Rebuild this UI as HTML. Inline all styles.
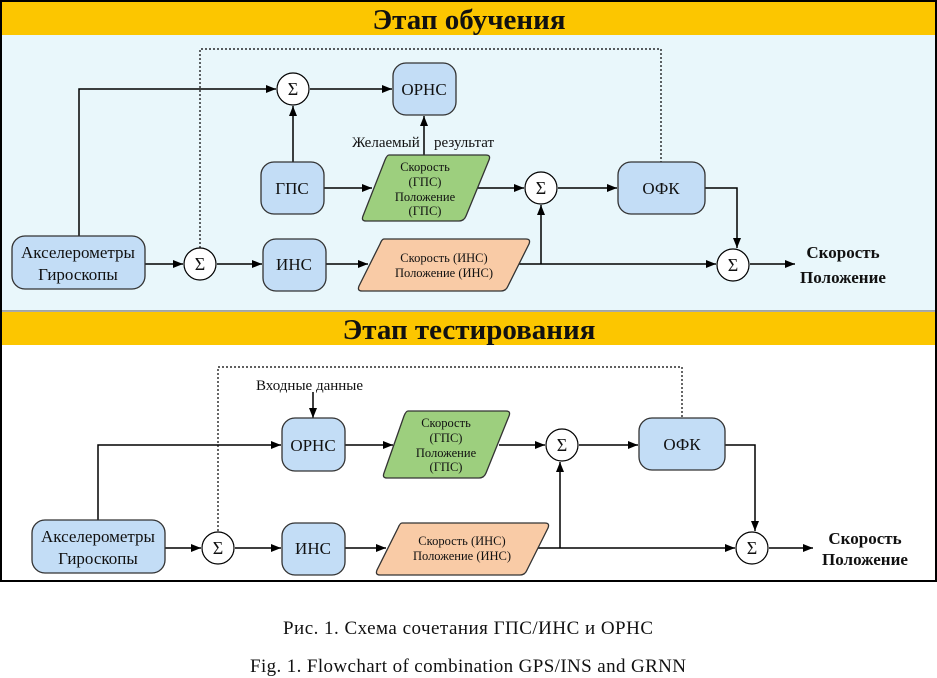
<!DOCTYPE html>
<html><head><meta charset="utf-8"><style>
html,body{margin:0;padding:0;background:#fff;}
svg{display:block;}
text{font-family:"Liberation Serif","DejaVu Serif",serif;fill:#111;}
</style></head><body>
<svg width="937" height="678" viewBox="0 0 937 678" xmlns="http://www.w3.org/2000/svg">
<defs>
<marker id="a" viewBox="0 0 10 10" refX="10" refY="5" markerWidth="10" markerHeight="10" markerUnits="userSpaceOnUse" orient="auto"><path d="M0,1 L10,5 L0,9 z" fill="#000"/></marker>
</defs>
<rect x="1" y="1" width="935" height="580" fill="#fff" stroke="#000" stroke-width="2"/>
<rect x="2" y="2" width="933" height="33" fill="#fcc600"/>
<rect x="2" y="35" width="933" height="276" fill="#e9f7fb"/>
<line x1="2" y1="311" x2="935" y2="311" stroke="#555" stroke-width="1"/>
<rect x="2" y="312" width="933" height="33" fill="#fcc600"/>
<text x="469" y="29" font-size="29" font-weight="bold" text-anchor="middle">Этап обучения</text>
<text x="469" y="339" font-size="29" font-weight="bold" text-anchor="middle">Этап тестирования</text>

<g stroke="#000" stroke-width="1.5" fill="none">
<polyline points="200,248 200,49 661,49 661,162" stroke-dasharray="2,2" stroke-width="1.2" marker-start="url(#a)"/>
<polyline points="79,236 79,89 276,89" marker-end="url(#a)"/>
<line x1="310" y1="89" x2="392" y2="89" marker-end="url(#a)"/>
<line x1="293" y1="162" x2="293" y2="106" marker-end="url(#a)"/>
<line x1="424" y1="155" x2="424" y2="116" marker-end="url(#a)"/>
<line x1="324" y1="188" x2="372" y2="188" marker-end="url(#a)"/>
<line x1="478" y1="188" x2="524" y2="188" marker-end="url(#a)"/>
<line x1="558" y1="188" x2="617" y2="188" marker-end="url(#a)"/>
<polyline points="705,188 737,188 737,248" marker-end="url(#a)"/>
<line x1="145" y1="264" x2="183" y2="264" marker-end="url(#a)"/>
<line x1="217" y1="264" x2="262" y2="264" marker-end="url(#a)"/>
<line x1="326" y1="264" x2="368" y2="264" marker-end="url(#a)"/>
<line x1="518" y1="264" x2="716" y2="264" marker-end="url(#a)"/>
<line x1="541" y1="264" x2="541" y2="205" marker-end="url(#a)"/>
<line x1="750" y1="264" x2="795" y2="264" marker-end="url(#a)"/>
<polyline points="218,531 218,367 682,367 682,418" stroke-dasharray="2,2" stroke-width="1.2" marker-start="url(#a)"/>
<line x1="313" y1="392" x2="313" y2="418" marker-end="url(#a)"/>
<polyline points="98,520 98,445 281,445" marker-end="url(#a)"/>
<line x1="345" y1="445" x2="393" y2="445" marker-end="url(#a)"/>
<line x1="499" y1="445" x2="545" y2="445" marker-end="url(#a)"/>
<line x1="579" y1="445" x2="638" y2="445" marker-end="url(#a)"/>
<polyline points="725,445 755,445 755,531" marker-end="url(#a)"/>
<line x1="165" y1="548" x2="201" y2="548" marker-end="url(#a)"/>
<line x1="235" y1="548" x2="281" y2="548" marker-end="url(#a)"/>
<line x1="345" y1="548" x2="386" y2="548" marker-end="url(#a)"/>
<line x1="537" y1="548" x2="735" y2="548" marker-end="url(#a)"/>
<line x1="560" y1="548" x2="560" y2="462" marker-end="url(#a)"/>
<line x1="769" y1="548" x2="813" y2="548" marker-end="url(#a)"/>
</g>

<g stroke="#333" stroke-width="1.3">
<rect x="393" y="63" width="63" height="52" rx="13" fill="#c3ddf6"/>
<rect x="261" y="162" width="63" height="52" rx="13" fill="#c3ddf6"/>
<rect x="12" y="236" width="133" height="53" rx="13" fill="#c3ddf6"/>
<rect x="263" y="239" width="63" height="52" rx="13" fill="#c3ddf6"/>
<rect x="618" y="162" width="87" height="52" rx="13" fill="#c3ddf6"/>
<path d="M389,155 L486,155 Q491,155 489,160 L466,216 Q464,221 459,221 L366,221 Q361,221 363,216 L385,160 Q387,155 389,155 z" fill="#9dcf7e"/>
<path d="M384,239 L526,239 Q531,239 529,244 L508,286 Q506,291 501,291 L362,291 Q357,291 359,286 L380,244 Q382,239 384,239 z" fill="#f9cba6"/>
<rect x="282" y="418" width="63" height="53" rx="13" fill="#c3ddf6"/>
<rect x="32" y="520" width="133" height="53" rx="13" fill="#c3ddf6"/>
<rect x="282" y="523" width="63" height="52" rx="13" fill="#c3ddf6"/>
<rect x="639" y="418" width="86" height="52" rx="13" fill="#c3ddf6"/>
<path d="M408,411 L506,411 Q511,411 509,416 L486,473 Q484,478 479,478 L387,478 Q382,478 384,473 L404,416 Q406,411 408,411 z" fill="#9dcf7e"/>
<path d="M402,523 L545,523 Q550,523 548,528 L527,570 Q525,575 520,575 L380,575 Q375,575 377,570 L398,528 Q400,523 402,523 z" fill="#f9cba6"/>
</g>
<g stroke="#000" stroke-width="1.2" fill="#fff">
<circle cx="293" cy="89" r="16"/><circle cx="200" cy="264" r="16"/><circle cx="541" cy="188" r="16"/><circle cx="733" cy="265" r="16"/>
<circle cx="218" cy="548" r="16"/><circle cx="562" cy="445" r="16"/><circle cx="752" cy="548" r="16"/>
</g>
<g font-size="18" text-anchor="middle">
<text x="293" y="95">Σ</text><text x="200" y="270">Σ</text><text x="541" y="194">Σ</text><text x="733" y="271">Σ</text>
<text x="218" y="554">Σ</text><text x="562" y="451">Σ</text><text x="752" y="554">Σ</text>
</g>
<g text-anchor="middle" font-size="17">
<text x="424" y="95">ОРНС</text>
<text x="292" y="194">ГПС</text>
<text x="78" y="258">Акселерометры</text><text x="78" y="280">Гироскопы</text>
<text x="294" y="270">ИНС</text>
<text x="661" y="194">ОФК</text>
<text x="313" y="451">ОРНС</text>
<text x="98" y="542">Акселерометры</text><text x="98" y="564">Гироскопы</text>
<text x="313" y="554">ИНС</text>
<text x="682" y="450">ОФК</text>
</g>
<g text-anchor="middle" font-size="12.5">
<text x="425" y="171">Скорость</text><text x="425" y="186">(ГПС)</text><text x="425" y="201">Положение</text><text x="425" y="215">(ГПС)</text>
<text x="444" y="262">Скорость (ИНС)</text><text x="444" y="277">Положение (ИНС)</text>
<text x="446" y="427">Скорость</text><text x="446" y="442">(ГПС)</text><text x="446" y="457">Положение</text><text x="446" y="471">(ГПС)</text>
<text x="462" y="545">Скорость (ИНС)</text><text x="462" y="560">Положение (ИНС)</text>
</g>
<g font-size="15">
<text x="352" y="147">Желаемый</text><text x="434" y="147">результат</text>
<text x="256" y="390">Входные данные</text>
</g>
<g font-size="17" font-weight="bold" text-anchor="middle">
<text x="843" y="258">Скорость</text><text x="843" y="283">Положение</text>
<text x="865" y="544">Скорость</text><text x="865" y="565">Положение</text>
</g>
<g font-size="19" text-anchor="middle">
<text x="468" y="634" textLength="370">Рис. 1. Схема сочетания ГПС/ИНС и ОРНС</text>
<text x="468" y="672" textLength="436">Fig. 1. Flowchart of combination GPS/INS and GRNN</text>
</g>
</svg>
</body></html>
